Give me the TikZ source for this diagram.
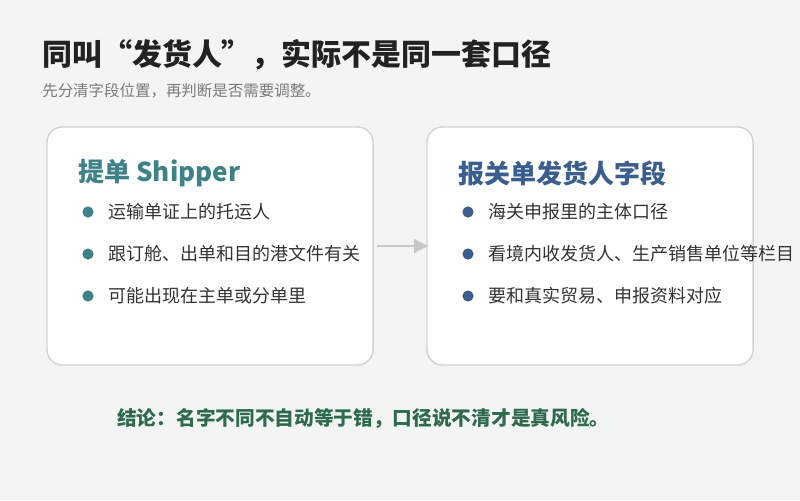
\documentclass[tikz,border=0pt]{standalone}
\usepackage{fontspec}
\setmainfont{Noto Sans CJK SC}
\usepackage{tikz}
\tikzset{>=latex}
\usetikzlibrary{positioning}
\usetikzlibrary{arrows.meta}
\definecolor{pagebg}{HTML}{F3F5F4}
\definecolor{titletext}{HTML}{222222}
\definecolor{subtext}{HTML}{7A7A7A}
\definecolor{cardline}{HTML}{D2D2D2}
\definecolor{shippercol}{HTML}{3E8288}
\definecolor{declcol}{HTML}{3B5E8E}
\definecolor{bodytext}{HTML}{333333}
\definecolor{concol}{HTML}{2F6A4C}
\definecolor{arrowcol}{HTML}{C8C8C8}
\tikzset{
  card/.style={draw=cardline, line width=1pt, fill=white, rounded corners=11pt,
    minimum width=8.15cm, minimum height=5.95cm},
  cardhead/.style={anchor=west, inner sep=0pt, font=\fontsize{18.5}{22}\selectfont\bfseries},
  itemtext/.style={anchor=west, inner sep=0pt, text=bodytext, font=\fontsize{12.8}{15}\selectfont},
  itemdot/.style={circle, inner sep=0pt, minimum size=0.28cm}
}

\begin{document}
\begin{tikzpicture}[x=0.025cm, y=-0.025cm]
                \fill[pagebg] (0, 0) rectangle (800, 500);
                \useasboundingbox (0, 0) rectangle (800, 500);
                \node[anchor=west, inner sep=0pt, text=titletext, font=\fontsize{21.3}{25}\selectfont\bfseries] (title) at (42, 55) {同叫“发货人”，实际不是同一套口径};
                \node[anchor=west, inner sep=0pt, text=subtext, font=\fontsize{11}{13}\selectfont] (subtitle) at (42, 91) {先分清字段位置，再判断是否需要调整。};
                \node[card] (shipper) at (210, 246) {};
                \node[card] (decl) at (590, 246) {};
                \node[cardhead, text=shippercol] (shipperhead) at (78, 173) {提单 Shipper};
                \node[cardhead, text=declcol] (declhead) at (458, 173) {报关单发货人字段};
                \foreach \txt [count=\i] in {运输单证上的托运人, 跟订舱、出单和目的港文件有关, 可能出现在主单或分单里} {
                    \node[itemdot, fill=shippercol] (sdot\i) at (88, 170 + 42*\i) {};
                    \node[itemtext] (sitem\i) at (108, 170 + 42*\i) {\txt};
                }
                \foreach \txt [count=\i] in {海关申报里的主体口径, 看境内收发货人、生产销售单位等栏目, 要和真实贸易、申报资料对应} {
                    \node[itemdot, fill=declcol] (ddot\i) at (468, 170 + 42*\i) {};
                    \node[itemtext] (ditem\i) at (488, 170 + 42*\i) {\txt};
                }
                \draw[-{Latex[length=0.4cm, width=0.4cm]}, arrowcol, line width=2.1pt] ([xshift=2pt]shipper.east) -- ([xshift=2.5pt]decl.west);
                \node[anchor=west, inner sep=0pt, text=concol, font=\fontsize{14}{17}\selectfont\bfseries] (conclusion) at (117, 418) {结论：名字不同不自动等于错，口径说不清才是真风险。};
            \end{tikzpicture}
\end{document}
